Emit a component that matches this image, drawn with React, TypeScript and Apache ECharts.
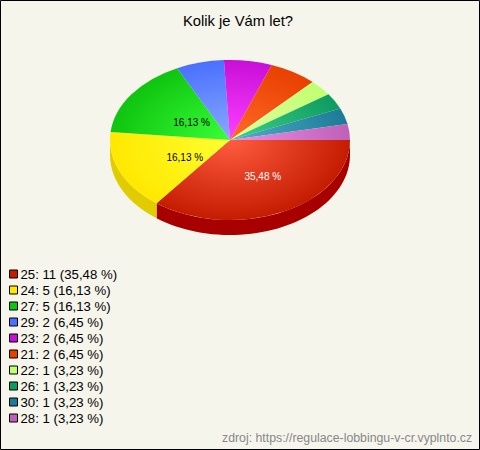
import React, { useEffect, useRef } from "react";
import * as echarts from "echarts";

const titleText = "Kolik je Vám let?";
const sourceText = "zdroj: https://regulace-lobbingu-v-cr.vyplnto.cz";
const ages = ["25", "24", "27", "29", "23", "21", "22", "26", "30", "28"];
const counts = [11, 5, 5, 2, 2, 2, 1, 1, 1, 1];
const percents = ["35,48", "16,13", "16,13", "6,45", "6,45", "6,45", "3,23", "3,23", "3,23", "3,23"];
const baseColors = ["#c41c00", "#ffe800", "#0fc40f", "#4a70ff", "#c80fd8", "#e84000", "#c0ff70", "#0c9c60", "#1c7c98", "#c060b8"];
const lightColors = ["#ff5c40", "#ffff30", "#38ff38", "#88aaff", "#ff40ff", "#ff6a28", "#e0ffa0", "#40d088", "#50b0c8", "#e890e8"];
const sideColors = ["#a80000", "#e0cc00", "#0a9a0a", "#3a58c8", "#a00cac", "#b83000", "#98c858", "#0a7c4c", "#166078", "#984c90"];
const labelColors = ["#ffffff", "#000000", "#000000"];

const CX = 230;
const CY = 140;
const RX = 120;
const RY = 80;
const DEPTH = 15;
const total = counts.reduce((a, b) => a + b, 0);
const labelRadiusX = [0.62, 0.41, 0.39];
const labelRadiusY = [0.51, 0.54, 0.39];

function sliceSeries(i: number) {
  const before = counts.slice(0, i).reduce((a, b) => a + b, 0);
  return {
    type: "custom",
    name: `${ages[i]}: ${counts[i]} (${percents[i]} %)`,
    coordinateSystem: "none",
    silent: true,
    itemStyle: { color: baseColors[i] },
    data: [[counts[i]]],
    renderItem: (_p: any, api: any) => {
      const value = api.value(0);
      const start = (before / total) * Math.PI * 2;
      const end = ((before + value) / total) * Math.PI * 2;
      const children: any[] = [];
      const wallStart = Math.max(start, 0);
      const wallEnd = Math.min(end, Math.PI);
      if (wallEnd > wallStart) {
        const pts: number[][] = [];
        for (let k = 0; k <= 48; k++) {
          const a = wallStart + ((wallEnd - wallStart) * k) / 48;
          pts.push([CX + RX * Math.cos(a), CY + RY * Math.sin(a)]);
        }
        for (let k = 48; k >= 0; k--) {
          const a = wallStart + ((wallEnd - wallStart) * k) / 48;
          pts.push([CX + RX * Math.cos(a), CY + DEPTH + RY * Math.sin(a)]);
        }
        children.push({ type: "polygon", shape: { points: pts }, style: { fill: sideColors[i] } });
      }
      children.push({
        type: "sector",
        x: CX,
        y: CY,
        scaleY: RY / RX,
        shape: { cx: 0, cy: 0, r0: 0, r: RX, startAngle: start, endAngle: end, clockwise: true },
        style: {
          fill: new echarts.graphic.RadialGradient(
            0,
            0,
            RX,
            [
              { offset: 0, color: lightColors[i] },
              { offset: 1, color: baseColors[i] },
            ],
            true
          ),
        },
      });
      if (i < labelRadiusX.length) {
        const mid = (start + end) / 2;
        children.push({
          type: "text",
          x: CX + RX * labelRadiusX[i] * Math.cos(mid),
          y: CY + RY * labelRadiusY[i] * Math.sin(mid),
          z2: 10,
          style: {
            text: `${percents[i]} %`,
            fill: labelColors[i],
            font: "10px 'Liberation Sans', Arial, sans-serif",
            align: "center",
            verticalAlign: "middle",
          },
        });
      }
      return { type: "group", children };
    },
  };
}

export default function App() {
  const ref = useRef<HTMLDivElement>(null);
  useEffect(() => {
    document.body.style.margin = "0";
    const chart = echarts.init(ref.current!, null, { renderer: "svg" });
    chart.setOption({
      animation: false,
      backgroundColor: "#f5f5ec",
      title: {
        text: titleText,
        left: 233,
        top: 8,
        textAlign: "center",
        textStyle: { fontFamily: "'Liberation Sans', Arial, sans-serif", fontSize: 14.8, fontWeight: "normal", color: "#000" },
      },
      legend: {
        orient: "vertical",
        left: 4,
        top: 262,
        itemWidth: 8,
        itemHeight: 8,
        itemGap: 2,
        icon: "rect",
        selectedMode: false,
        itemStyle: { borderColor: "#000", borderWidth: 1 },
        textStyle: { fontFamily: "'Liberation Sans', Arial, sans-serif", fontSize: 13.2, color: "#000", padding: [0, 0, 0, -2], lineHeight: 14 },
      },
      graphic: [
        {
          type: "rect",
          silent: true,
          z: 20,
          shape: { x: 0.5, y: 0.5, width: 479, height: 449 },
          style: { fill: "none", stroke: "#000", lineWidth: 1 },
        },
        {
          type: "text",
          left: 222,
          top: 432,
          style: { text: sourceText, font: "12.3px 'Liberation Sans', Arial, sans-serif", fill: "#888888" },
        },
      ],
      series: ages.map((_, i) => sliceSeries(i)),
    });
    return () => chart.dispose();
  }, []);
  return <div ref={ref} style={{ width: 480, height: 450 }} />;
}
